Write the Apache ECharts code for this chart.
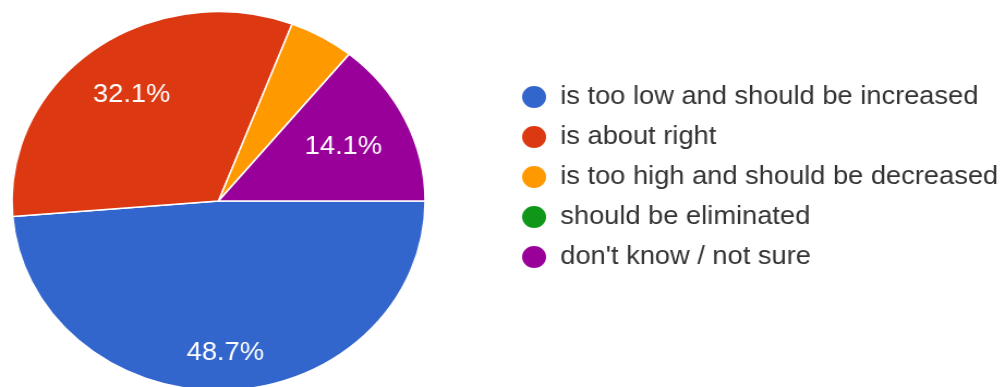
<!DOCTYPE html>
<html>
<head>
<meta charset="utf-8">
<script src="https://cdn.jsdelivr.net/npm/echarts@6/dist/echarts.min.js"></script>
<style>
  html, body { margin: 0; padding: 0; background: #fff; overflow: hidden; }
  #chart { width: 920px; height: 387px; transform: scaleX(1.09); transform-origin: 0 0; }
</style>
</head>
<body>
<div id="chart"></div>
<script>
const categories = [
  'is too low and should be increased',
  'is about right',
  'is too high and should be decreased',
  'should be eliminated',
  "don't know / not sure"
];
const percents = [48.7, 32.1, 5.1, 0, 14.1];
const colors = ['#3366cc', '#dc3912', '#ff9900', '#109618', '#990099'];

const FONT = '"Liberation Sans", Arial, sans-serif';
const center = [200.5, 201];
const R = 189.5;

const mainData = categories.map((n, i) => ({ name: n, value: percents[i], itemStyle: { color: colors[i] } }));

function labelData(showIdx) {
  return categories.map((n, i) => ({
    name: n,
    value: percents[i],
    label: { show: showIdx.indexOf(i) >= 0 }
  }));
}

const overlayBase = {
  type: 'pie',
  center: center,
  startAngle: 0,
  clockwise: true,
  silent: true,
  animation: false,
  labelLine: { show: false },
  itemStyle: { color: 'rgba(0,0,0,0)', borderWidth: 0 },
  emphasis: { disabled: true },
  label: {
    position: 'inside',
    color: '#ffffff',
    fontFamily: FONT,
    fontSize: 25,
    formatter: p => p.value.toFixed(1) + '%'
  }
};

const chart = echarts.init(document.getElementById('chart'), null, { renderer: 'canvas' });
chart.setOption({
  animation: false,
  legend: {
    orient: 'vertical',
    left: 472,
    top: 79,
    icon: 'circle',
    itemWidth: 24,
    itemHeight: 24,
    itemGap: 14,
    data: categories,
    selectedMode: false,
    textStyle: { fontFamily: FONT, fontSize: 25, color: '#333333', padding: [0, 0, 0, 7] }
  },
  series: [
    {
      type: 'pie',
      name: 'main',
      center: center,
      radius: [0, R],
      startAngle: 0,
      clockwise: true,
      animation: false,
      label: { show: false },
      labelLine: { show: false },
      itemStyle: { borderColor: '#ffffff', borderWidth: 1.5 },
      emphasis: { disabled: true },
      data: mainData
    },
    Object.assign({}, overlayBase, { name: 'lblA', radius: [109, R], data: labelData([0]) }),
    Object.assign({}, overlayBase, { name: 'lblB', radius: [70, R], data: labelData([1]) }),
    Object.assign({}, overlayBase, { name: 'lblC', radius: [58, R], data: labelData([4]) })
  ]
});
</script>
</body>
</html>
